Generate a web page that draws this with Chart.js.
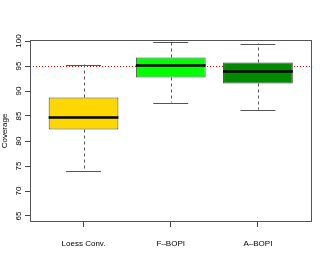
<!DOCTYPE html>
<html>
<head>
<meta charset="utf-8">
<script src="https://cdn.jsdelivr.net/npm/chart.js@4/dist/chart.umd.min.js"></script>
<style>
  html, body { margin: 0; padding: 0; background: #fff; }
  #wrap { width: 327px; height: 273px; }
</style>
</head>
<body>
<div id="wrap"><canvas id="chart" width="327" height="273"></canvas></div>
<script>
// box plot data
let methods = ['Loess Conv.', 'F\u2013BOPI', 'A\u2013BOPI'];
let whiskLow = [74.1, 87.7, 86.3];
let q1 = [82.3, 92.7, 91.5];
let median = [84.7, 95.1, 93.9];
let q3 = [88.7, 96.7, 95.7];
let whiskHigh = [95.3, 99.7, 99.5];
let yTicks = [65, 70, 75, 80, 85, 90, 95, 100];
let refLine = 95;

let boxColors = ['#FFD700', '#00FF00', '#008B00'];

function boxPlotPlugin() {
    return {
        id: 'boxParts',
        beforeDatasetsDraw(chart) {
            // reference line, behind the boxes
            let ctx = chart.ctx;
            let ys = chart.scales.y;
            let area = chart.chartArea;
            ctx.save();
            ctx.strokeStyle = '#FF0000';
            ctx.lineWidth = 1;
            ctx.setLineDash([1, 2]);
            ctx.beginPath();
            let yr = Math.round(ys.getPixelForValue(refLine)) + 0.5;
            ctx.moveTo(area.left - 3, yr);
            ctx.lineTo(area.right, yr);
            ctx.stroke();
            ctx.restore();
        },
        afterDatasetsDraw(chart) {
            let ctx = chart.ctx;
            let xs = chart.scales.x;
            let ys = chart.scales.y;
            let area = chart.chartArea;
            ctx.save();
            for (let i = 0; i < methods.length; i++) {
                let cx = xs.getPixelForValue(i + 1);
                let halfBox = xs.getPixelForValue(i + 1.4) - cx;
                let halfCap = xs.getPixelForValue(i + 1.2) - cx;

                // whiskers
                ctx.strokeStyle = '#555';
                ctx.lineWidth = 1;
                ctx.setLineDash([3, 3]);
                ctx.beginPath();
                ctx.moveTo(Math.round(cx) + 0.5, ys.getPixelForValue(q3[i]));
                ctx.lineTo(Math.round(cx) + 0.5, ys.getPixelForValue(whiskHigh[i]));
                ctx.moveTo(Math.round(cx) + 0.5, ys.getPixelForValue(q1[i]));
                ctx.lineTo(Math.round(cx) + 0.5, ys.getPixelForValue(whiskLow[i]));
                ctx.stroke();

                // caps
                ctx.setLineDash([]);
                ctx.beginPath();
                let yh = Math.round(ys.getPixelForValue(whiskHigh[i])) + 0.5;
                let yl = Math.round(ys.getPixelForValue(whiskLow[i])) + 0.5;
                ctx.moveTo(cx - halfCap, yh);
                ctx.lineTo(cx + halfCap, yh);
                ctx.moveTo(cx - halfCap, yl);
                ctx.lineTo(cx + halfCap, yl);
                ctx.stroke();

                // median
                ctx.strokeStyle = '#000';
                ctx.lineWidth = 2.5;
                ctx.beginPath();
                let ym = ys.getPixelForValue(median[i]);
                ctx.moveTo(cx - halfBox, ym);
                ctx.lineTo(cx + halfBox, ym);
                ctx.stroke();
            }

            // frame
            ctx.strokeStyle = '#555';
            ctx.lineWidth = 1;
            ctx.strokeRect(area.left + 0.5, area.top + 0.5, area.right - area.left - 1, area.bottom - area.top - 1);
            ctx.restore();
        }
    };
}

function chartConstruct() {
    let ctx = document.getElementById('chart').getContext('2d');

    let chartData = {
        datasets: [{
            data: methods.map((m, i) => ({x: i + 1, y: [q1[i], q3[i]]})),
            backgroundColor: boxColors,
            borderColor: '#444',
            borderWidth: 1,
            borderSkipped: false,
            categoryPercentage: 1,
            barPercentage: 0.8
        }]
    };

    new Chart(ctx, {
        type: 'bar',
        data: chartData,
        options: {
            responsive: false,
            animation: false,
            layout: {padding: {left: 0, top: 40, right: 15, bottom: 0}},
            plugins: {
                legend: {display: false},
                tooltip: {enabled: false}
            },
            scales: {
                x: {
                    type: 'linear',
                    offset: false,
                    min: 0.386,
                    max: 3.62,
                    afterBuildTicks: (s) => { s.ticks = methods.map((m, i) => ({value: i + 1})); },
                    afterFit: (s) => { s.height = 51; },
                    grid: {display: true, drawOnChartArea: false, drawTicks: true, tickLength: 5, color: '#444', offset: false},
                    border: {display: false},
                    ticks: {
                        autoSkip: false,
                        maxRotation: 0,
                        padding: 12,
                        color: '#000',
                        font: {family: 'Liberation Sans', size: 8},
                        callback: (v) => methods[v - 1]
                    }
                },
                y: {
                    min: 63.8,
                    max: 100.2,
                    afterBuildTicks: (s) => { s.ticks = yTicks.map((v) => ({value: v})); },
                    afterFit: (s) => { s.width = 30; },
                    grid: {display: true, drawOnChartArea: false, drawTicks: true, tickLength: 5, color: '#444'},
                    border: {display: false},
                    title: {
                        display: true,
                        text: 'Coverage',
                        color: '#000',
                        padding: {top: 0, bottom: 0},
                        font: {family: 'Liberation Sans', size: 8}
                    },
                    ticks: {
                        minRotation: 90,
                        maxRotation: 90,
                        crossAlign: 'center',
                        padding: 0,
                        color: '#000',
                        font: {family: 'Liberation Sans', size: 8}
                    }
                }
            }
        },
        plugins: [boxPlotPlugin()]
    });
}

chartConstruct();
</script>
</body>
</html>
